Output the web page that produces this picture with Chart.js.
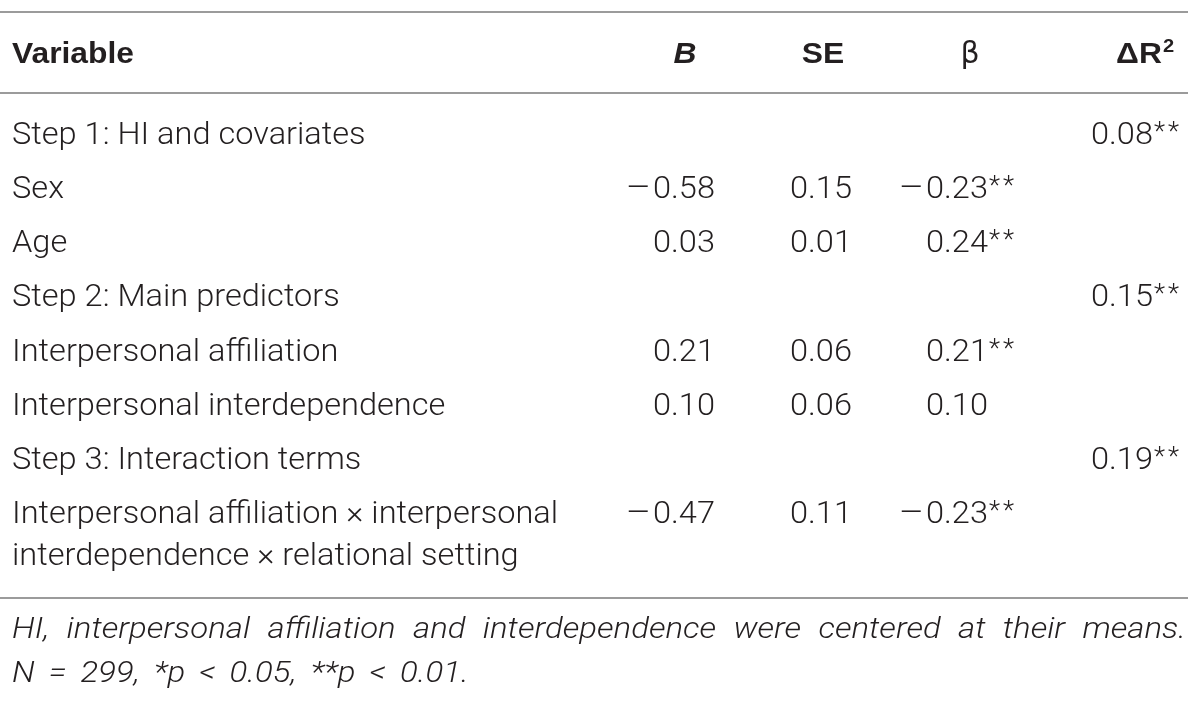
<!DOCTYPE html>
<html>
<head>
<meta charset="utf-8">
<script src="https://cdn.jsdelivr.net/npm/chart.js@4.4.1/dist/chart.umd.min.js"></script>
<style>
  html, body { margin: 0; padding: 0; background: #fff; }
  #wrap { width: 1200px; height: 702px; }
</style>
</head>
<body>
<div id="wrap"><canvas id="tbl" width="1200" height="702"></canvas></div>
<script>
// table data
const variables = [
  "Step 1: HI and covariates",
  "Sex",
  "Age",
  "Step 2: Main predictors",
  "Interpersonal affiliation",
  "Interpersonal interdependence",
  "Step 3: Interaction terms",
  "Interpersonal affiliation \u00d7 interpersonal\ninterdependence \u00d7 relational setting"
];
const bValues    = [null, -0.58, 0.03, null, 0.21, 0.10, null, -0.47];
const seValues   = [null, 0.15, 0.01, null, 0.06, 0.06, null, 0.11];
const betaValues = [null, -0.23, 0.24, null, 0.21, 0.10, null, -0.23];
const betaStars  = ["", "**", "**", "", "**", "", "", "**"];
const dR2Values  = [0.08, null, null, 0.15, null, null, 0.19, null];
const dR2Stars   = ["**", "", "", "**", "", "", "**", ""];
const headers = ["Variable", "B", "SE", "\u03b2", "\u0394R"];
const footnote1 = "HI, interpersonal affiliation and interdependence were centered at their means.";
const footnote2 = ["N", "=", "299,", "*p", "<", "0.05,", "**p", "<", "0.01."];

// where each column starts (x scale units = px)
const colX = { variable: 12, b: 653, se: 790, beta: 926, dr2: 1091 };
const headX = { b: 685, se: 823, beta: 970, dr2: 1145 };

const TEXT = "#231f20";
const RULE = "#9b9b9b";
const SX = 1.05; // widen Roboto Light a bit towards Helvetica Light
const LIGHT = "300 31px Roboto, 'Liberation Sans', sans-serif";
const BOLD = "bold 30px 'Liberation Sans', Arial, sans-serif";
const STAR = "300 26px Roboto, 'Liberation Sans', sans-serif";
const NOTE = "italic 300 30px Roboto, 'Liberation Sans', sans-serif";
const NOTE_SX = 1.1;

function makeSet(label, x, values, stars) {
  return {
    label: label,
    data: values.map((v, i) => ({ x: x, y: variables[i], v: v, s: stars ? stars[i] : "" })),
    pointRadius: 0,
    showLine: false
  };
}

// draw text stretched horizontally by sx around its anchor
function txt(ctx, s, x, y, align, sx) {
  ctx.save();
  ctx.translate(x, y);
  ctx.scale(sx, 1);
  ctx.textAlign = align;
  ctx.fillText(s, 0, 0);
  ctx.restore();
  return ctx.measureText(s).width * sx;
}

function drawNumber(ctx, x, y, v, s) {
  if (v === null || v === undefined) return;
  const t = Math.abs(v).toFixed(2);
  ctx.font = LIGHT;
  const w = txt(ctx, t, x, y, "left", SX);
  if (v < 0) txt(ctx, "\u2013", x - 2, y, "right", 1.25);
  if (s) {
    ctx.font = STAR;
    let sx = x + w + 1;
    for (const c of s) {
      sx += txt(ctx, c, sx, y - 4, "left", 1) + 3;
    }
  }
}

const tablePlugin = {
  id: "tablePlugin",
  afterDatasetsDraw(chart) {
    const ctx = chart.ctx;
    const yS = chart.scales.y;
    const xS = chart.scales.x;
    const top = yS.getPixelForValue(0);
    const last = yS.getPixelForValue(variables.length - 1);
    const base = 10; // baseline below row centre
    ctx.save();
    ctx.fillStyle = TEXT;
    ctx.textBaseline = "alphabetic";

    // rules
    ctx.strokeStyle = RULE;
    ctx.lineWidth = 2;
    const left = xS.getPixelForValue(0), right = xS.getPixelForValue(1188);
    [top - 122, top - 41, last + 85].forEach(yy => {
      ctx.beginPath();
      ctx.moveTo(left, yy);
      ctx.lineTo(right, yy);
      ctx.stroke();
    });

    // header
    const hy = top - 71;
    ctx.font = BOLD;
    txt(ctx, headers[0], xS.getPixelForValue(colX.variable), hy, "left", 1.06);
    ctx.font = "italic bold 30px 'Liberation Sans', Arial, sans-serif";
    txt(ctx, headers[1], xS.getPixelForValue(headX.b), hy, "center", 1.06);
    ctx.font = BOLD;
    txt(ctx, headers[2], xS.getPixelForValue(headX.se), hy, "center", 1.06);
    ctx.font = "30px 'DejaVu Sans', sans-serif";
    txt(ctx, headers[3], xS.getPixelForValue(headX.beta), hy, "center", 1);
    ctx.font = BOLD;
    const dw = ctx.measureText(headers[4]).width * 1.06;
    const dx = xS.getPixelForValue(headX.dr2) - dw / 2 - 6;
    txt(ctx, headers[4], dx, hy, "left", 1.06);
    ctx.font = "bold 19px 'Liberation Sans', Arial, sans-serif";
    txt(ctx, "2", dx + dw + 1, hy - 11, "left", 1.06);

    // variable names
    ctx.font = LIGHT;
    variables.forEach((name, i) => {
      const y = yS.getPixelForValue(i) + base;
      name.split("\n").forEach((line, j) => {
        txt(ctx, line, xS.getPixelForValue(colX.variable), y + j * 42, "left", SX);
      });
    });

    // numbers from datasets
    chart.data.datasets.forEach((ds, di) => {
      const meta = chart.getDatasetMeta(di);
      meta.data.forEach((pt, i) => {
        const d = ds.data[i];
        drawNumber(ctx, pt.x, pt.y + base, d.v, d.s);
      });
    });

    // footnote, first line justified
    ctx.font = NOTE;
    const fy = last + 125;
    const words = footnote1.split(" ");
    const x0 = xS.getPixelForValue(12), x1 = xS.getPixelForValue(1186);
    const wsum = words.reduce((a, w) => a + ctx.measureText(w).width * NOTE_SX, 0);
    const gap = Math.max(6, (x1 - x0 - wsum) / (words.length - 1));
    let fx = x0;
    words.forEach(w => {
      fx += txt(ctx, w, fx, fy, "left", NOTE_SX) + gap;
    });
    fx = x0;
    footnote2.forEach(w => {
      fx += txt(ctx, w, fx, fy + 44, "left", NOTE_SX) + 14;
    });
    ctx.restore();
  }
};

new Chart(document.getElementById("tbl"), {
  type: "scatter",
  data: {
    datasets: [
      makeSet("B", colX.b, bValues),
      makeSet("SE", colX.se, seValues),
      makeSet("\u03b2", colX.beta, betaValues, betaStars),
      makeSet("\u0394R2", colX.dr2, dR2Values, dR2Stars)
    ]
  },
  options: {
    responsive: false,
    animation: false,
    layout: { padding: { top: 134, bottom: 189, left: 0, right: 0 } },
    plugins: { legend: { display: false }, tooltip: { enabled: false } },
    scales: {
      x: { type: "linear", min: 0, max: 1200, display: false },
      y: { type: "category", labels: variables, offset: false, display: false }
    }
  },
  plugins: [tablePlugin]
});
</script>
</body>
</html>
